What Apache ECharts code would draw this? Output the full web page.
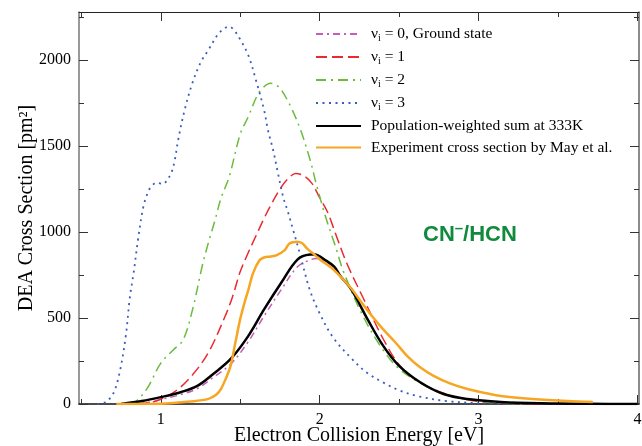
<!DOCTYPE html>
<html>
<head>
<meta charset="utf-8">
<script src="https://cdn.jsdelivr.net/npm/echarts@6/dist/echarts.min.js"></script>
<style>
  html, body { margin: 0; padding: 0; background: #fff; }
  #main { width: 642px; height: 446px; }
</style>
</head>
<body>
<div id="main"></div>
<script>
(function () {

  // ---- data: [energy eV, cross section pm^2] ----
  const v0 = [[0.85,0],[0.95,14],[1.0,26],[1.13,56],[1.23,90],[1.33,155],[1.44,232],[1.55,362],[1.65,512],[1.76,668],[1.86,798],[1.94,838],[1.98,846],[2.03,830],[2.09,795],[2.13,742],[2.2,662],[2.3,495],[2.4,338],[2.5,222],[2.63,128],[2.78,58],[2.93,29],[3.14,12],[3.4,3],[3.6,0]];
  const v1 = [[0.85,0],[0.95,12],[1.0,28],[1.1,80],[1.2,170],[1.3,300],[1.4,500],[1.45,620],[1.5,770],[1.55,880],[1.6,980],[1.65,1080],[1.7,1170],[1.75,1250],[1.8,1310],[1.85,1340],[1.9,1328],[1.95,1285],[2.0,1200],[2.05,1115],[2.1,990],[2.17,820],[2.28,605],[2.4,378],[2.5,228],[2.6,145],[2.7,92],[2.84,45],[3.0,15],[3.2,3],[3.4,0]];
  const v2 = [[0.8,0],[0.85,20],[0.92,100],[1.0,238],[1.08,316],[1.14,372],[1.2,550],[1.26,800],[1.3,940],[1.34,1065],[1.38,1200],[1.43,1320],[1.5,1570],[1.55,1670],[1.61,1800],[1.65,1845],[1.69,1865],[1.73,1852],[1.76,1825],[1.82,1725],[1.88,1593],[1.94,1419],[1.98,1275],[2.04,1080],[2.1,915],[2.15,770],[2.26,535],[2.38,340],[2.5,205],[2.68,98],[2.82,46],[3.0,18],[3.1,6],[3.3,0]];
  const v3 = [[0.6,0],[0.65,10],[0.7,60],[0.74,180],[0.78,400],[0.805,620],[0.83,770],[0.857,960],[0.89,1147],[0.92,1234],[0.94,1264],[0.973,1287],[1.015,1280],[1.046,1312],[1.067,1345],[1.088,1419],[1.109,1535],[1.15,1710],[1.2,1870],[1.25,1985],[1.3,2060],[1.36,2150],[1.4,2185],[1.43,2195],[1.46,2175],[1.5,2120],[1.55,2030],[1.6,1880],[1.65,1710],[1.675,1590],[1.707,1477],[1.738,1340],[1.77,1205],[1.8,1118],[1.833,1012],[1.875,876],[1.938,663],[2.0,527],[2.082,390],[2.2,265],[2.3,180],[2.4,125],[2.5,80],[2.62,45],[2.8,17],[3.0,5],[3.2,0]];
  const weighted = [[0.75,0],[0.88,17],[1.0,40],[1.13,70],[1.23,105],[1.33,175],[1.44,262],[1.55,395],[1.65,550],[1.76,708],[1.86,840],[1.94,869],[1.97,870],[2.03,840],[2.09,800],[2.13,745],[2.2,665],[2.3,495],[2.4,338],[2.5,222],[2.63,128],[2.78,58],[2.93,29],[3.14,12],[3.4,4],[3.7,1],[4.0,0]];
  const experiment = [[0.72,0],[1.0,2],[1.19,15],[1.3,30],[1.35,55],[1.38,90],[1.41,150],[1.44,225],[1.47,360],[1.5,495],[1.53,600],[1.55,660],[1.58,760],[1.62,835],[1.65,852],[1.69,858],[1.73,866],[1.78,895],[1.81,934],[1.86,944],[1.89,935],[1.92,905],[1.97,866],[2.02,827],[2.07,795],[2.13,742],[2.2,670],[2.26,595],[2.33,510],[2.4,434],[2.48,355],[2.55,280],[2.63,215],[2.72,162],[2.82,120],[2.93,87],[3.05,62],[3.14,46],[3.34,29],[3.56,17],[3.72,12]];

  const xMajor = [1, 2, 3, 4];
  const xMinor = [0.5, 1.5, 2.5, 3.5];
  const yMajor = [0, 500, 1000, 1500, 2000];
  const yMinor = [250, 750, 1250, 1750, 2250];

  const names = ['v0', 'v1', 'v2', 'v3', 'sum', 'exp'];
  const labels = {
    v0: '{n|ν}{s|i}{n| = 0, Ground state}',
    v1: '{n|ν}{s|i}{n| = 1}',
    v2: '{n|ν}{s|i}{n| = 2}',
    v3: '{n|ν}{s|i}{n| = 3}',
    sum: '{n|Population-weighted sum at 333K}',
    exp: '{n|Experiment cross section by May et al.}'
  };

  const serif = 'Liberation Serif';
  const rect = { left: 79, top: 12, width: 560, height: 392, outerBoundsMode: 'none' };

  function axis(dim, pos, grid, ticks, len, opts) {
    let a = {
      type: 'value',
      gridIndex: grid,
      position: pos,
      min: dim === 'x' ? 0.485 : 0,
      max: dim === 'x' ? 4.01 : 2280,
      splitLine: { show: false },
      axisLine: { show: false, onZero: false },
      axisTick: { show: true, inside: true, length: len, customValues: ticks,
                  lineStyle: { color: '#333', width: 1 } },
      axisLabel: { show: false }
    };
    return Object.assign(a, opts || {});
  }

  let lineAx = function (color, w) {
    return { show: true, onZero: false, lineStyle: { color: color, width: w } };
  };
  let plain = function (v) { return String(v); };

  let xAxis = [
    axis('x', 'bottom', 0, xMajor, 9, {
      axisLine: lineAx('#111', 1.5),
      axisLabel: { show: true, customValues: xMajor, margin: 8, color: '#000',
                   fontFamily: serif, fontSize: 16, formatter: plain },
      name: 'Electron Collision Energy [eV]',
      nameLocation: 'middle',
      nameGap: 22,
      nameMoveOverlap: false,
      nameTextStyle: { fontFamily: serif, fontSize: 20, color: '#000' }
    }),
    axis('x', 'top', 0, xMajor, 9, { axisLine: lineAx('#222', 1) }),
    axis('x', 'bottom', 1, xMinor, 5),
    axis('x', 'top', 1, xMinor, 5)
  ];

  let yAxis = [
    axis('y', 'left', 0, yMajor, 9, {
      axisLine: lineAx('#777', 1.5),
      axisLabel: { show: true, customValues: yMajor, margin: 8, color: '#000',
                   fontFamily: serif, fontSize: 16, formatter: plain },
      name: 'DEA Cross Section [pm²]',
      nameLocation: 'middle',
      nameGap: 42,
      nameMoveOverlap: false,
      nameTextStyle: { fontFamily: serif, fontSize: 20, color: '#000' }
    }),
    axis('y', 'right', 0, yMajor, 9, { axisLine: lineAx('#666', 1.5) }),
    axis('y', 'left', 1, yMinor, 5),
    axis('y', 'right', 1, yMinor, 5)
  ];

  function line(name, data, color, width, dash, z) {
    return {
      name: name,
      type: 'line',
      data: data,
      xAxisIndex: 0,
      yAxisIndex: 0,
      symbol: 'none',
      smooth: 0.35,
      z: z,
      lineStyle: { color: color, width: width, type: dash },
      itemStyle: { color: color }
    };
  }

  let myChart = echarts.init(document.getElementById('main'));
  let option = {
    backgroundColor: '#fff',
    animation: false,
    grid: [rect, rect],
    xAxis: xAxis,
    yAxis: yAxis,
    legend: {
      data: names,
      orient: 'vertical',
      left: 310,
      top: 21,
      itemWidth: 45,
      itemHeight: 14,
      itemGap: 5.5,
      itemStyle: { opacity: 0 },
      formatter: function (n) { return labels[n]; },
      textStyle: {
        padding: [0, 0, 0, 5],
        rich: {
          n: { fontFamily: serif, fontSize: 15.5, color: '#000', lineHeight: 17 },
          s: { fontFamily: serif, fontSize: 10, color: '#000', padding: [9, 0, 0, 0] }
        }
      }
    },
    graphic: [{
      type: 'text',
      left: 423,
      top: 221,
      style: {
        text: '{a|CN}{b|–}{a|/HCN}',
        rich: {
          a: { fontFamily: 'Liberation Sans', fontWeight: 'bold', fontSize: 22, fill: '#108a3c' },
          b: { fontFamily: 'Liberation Sans', fontWeight: 'bold', fontSize: 15, fill: '#108a3c', padding: [0, 0, 12, 0] }
        }
      }
    }],
    series: [
      line('v0', v0, '#c25eb5', 1.5, [7, 4, 2, 4], 2),
      line('v1', v1, '#ea2a30', 1.5, [11, 5], 3),
      line('v2', v2, '#6cbb3c', 1.5, [10, 5, 2, 5], 4),
      line('v3', v3, '#3a5bbf', 1.8, [2, 4.5], 5),
      line('sum', weighted, '#000', 2.5, 'solid', 6),
      line('exp', experiment, '#f7a623', 2.5, 'solid', 7)
    ]
  };

  myChart.setOption(option);
  window.addEventListener('resize', function () {
    myChart.resize();
  });

})();
</script>
</body>
</html>
